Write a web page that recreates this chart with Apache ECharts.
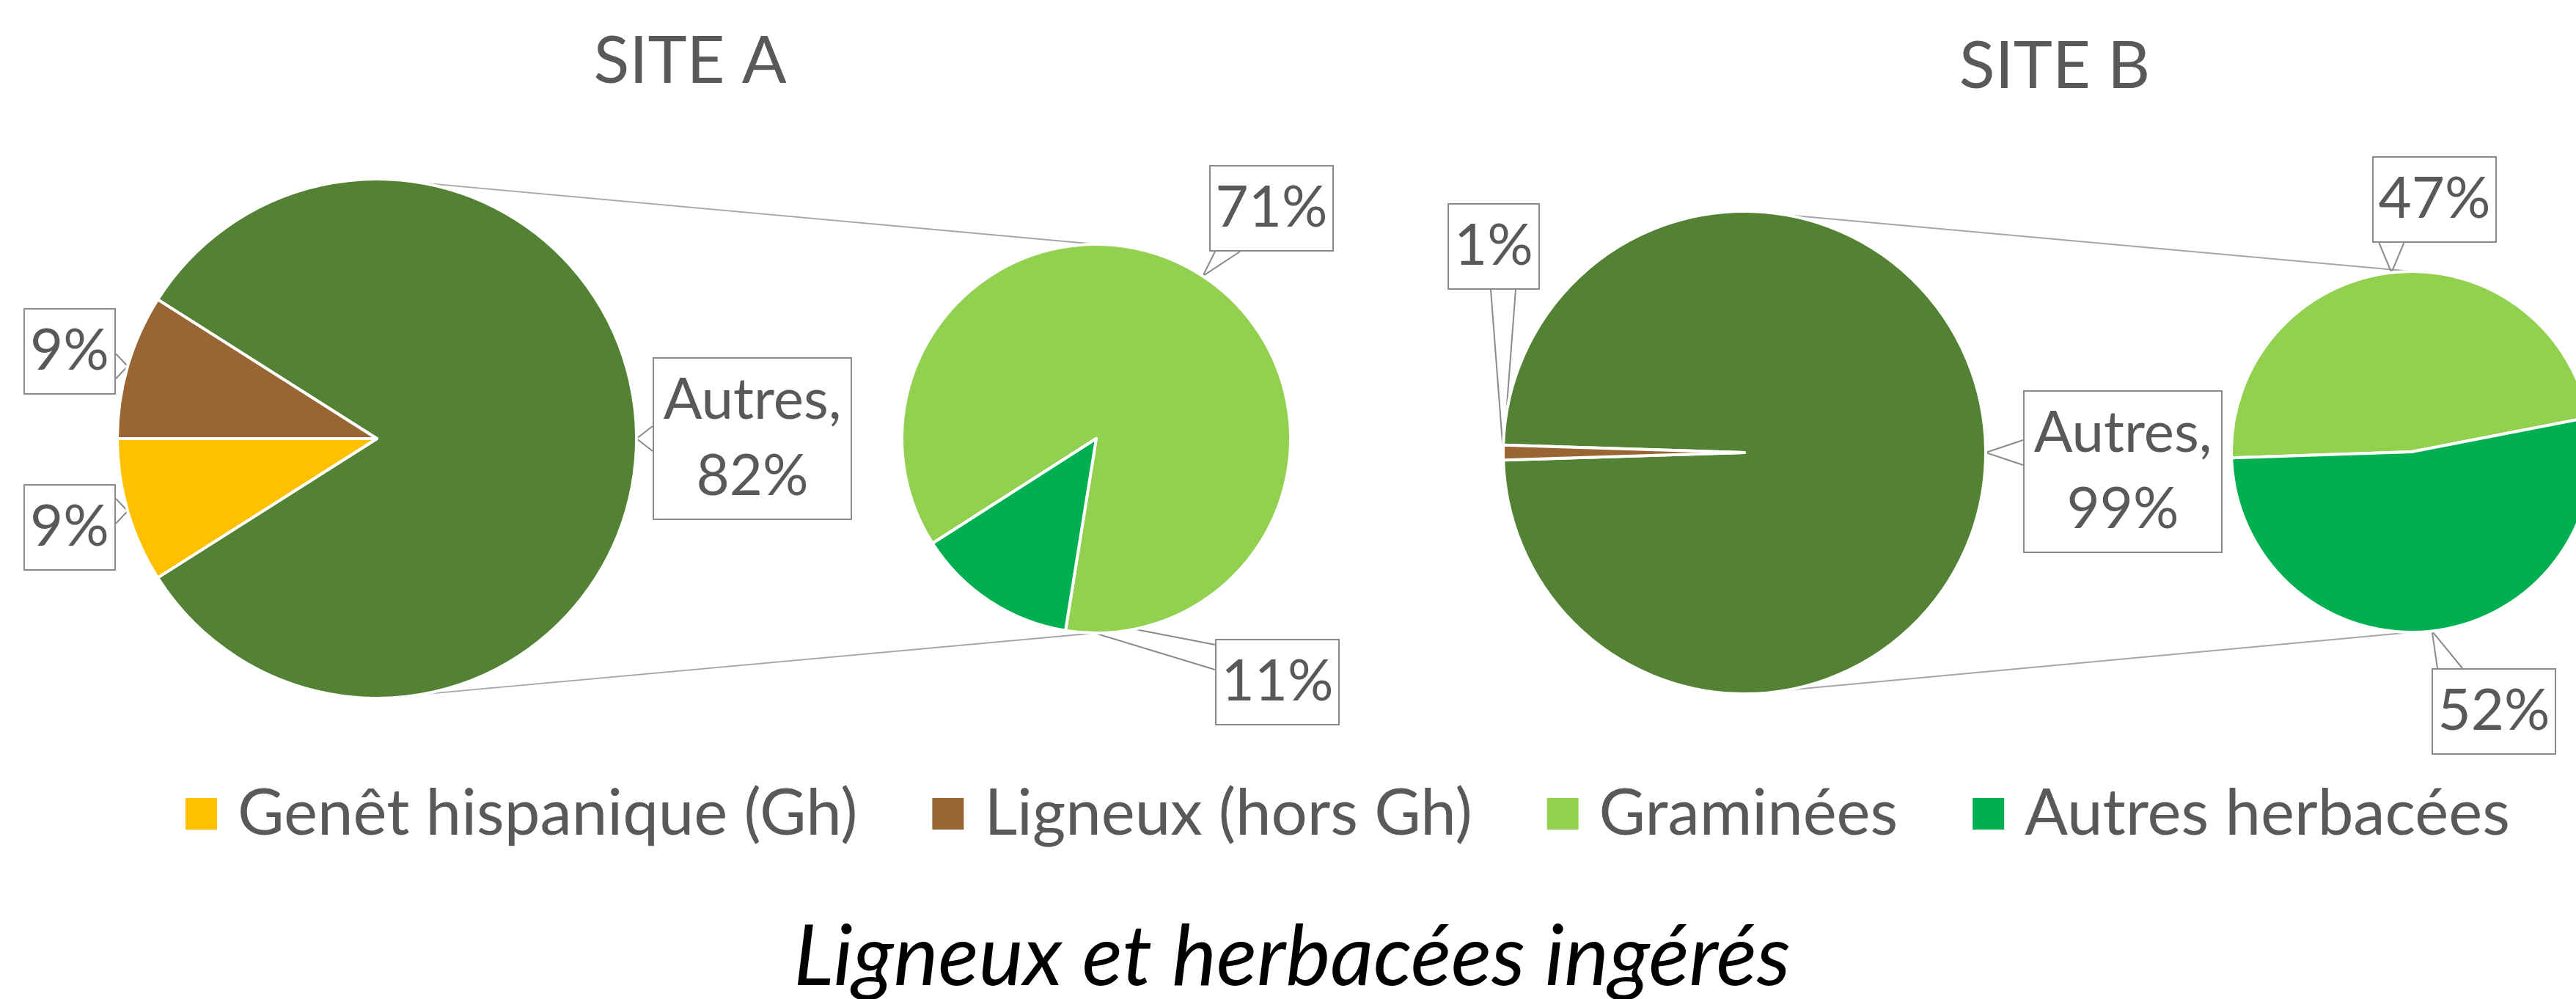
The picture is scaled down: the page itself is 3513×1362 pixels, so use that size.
<!DOCTYPE html>
<html>
<head>
<meta charset="utf-8">
<script src="https://cdn.jsdelivr.net/npm/echarts@6/dist/echarts.min.js"></script>
<style>
  html, body { margin: 0; padding: 0; background: #fff; }
  #chart { width: 3513px; height: 1362px; }
</style>
</head>
<body>
<div id="chart"></div>
<script>
// ---- data ----
const siteTitles = ['SITE A', 'SITE B'];
const chartTitle = 'Ligneux et herbacées ingérés';
const legendNames = ['Genêt hispanique (Gh)', 'Ligneux (hors Gh)', 'Graminées', 'Autres herbacées'];

const siteAMainNames = ['Autres', 'Genêt hispanique (Gh)', 'Ligneux (hors Gh)'];
const siteAMainValues = [82, 9, 9];
const siteASecNames = ['Graminées', 'Autres herbacées'];
const siteASecValues = [71, 11];

const siteBMainNames = ['Autres', 'Ligneux (hors Gh)'];
const siteBMainValues = [99, 1];
const siteBSecNames = ['Graminées', 'Autres herbacées'];
const siteBSecValues = [47, 52];

// ---- styles / layout ----
const colors = {
  'Autres': '#548235',
  'Genêt hispanique (Gh)': '#FFC000',
  'Ligneux (hors Gh)': '#996633',
  'Graminées': '#92D050',
  'Autres herbacées': '#00B050'
};
const TEXT_GREY = '#595959';
const BOX_GREY = '#8a8a8a';
const FONT = 'Lato, "Open Sans", sans-serif';

// pie geometry, start angles and callout box centres (px)
const pies = {
  aMain: { center: [514, 598], r: 354, startAngle: 147.6, labels: [[1026, 598], [95, 719], [95, 479]] },
  aSec:  { center: [1495, 598], r: 265, startAngle: 212.6, labels: [[1734, 284], [1742, 930]] },
  bMain: { center: [2379, 617], r: 329, startAngle: 178.2, labels: [[2895, 643], [2037, 336]] },
  bSec:  { center: [3289, 616], r: 246, startAngle: 181.9, labels: [[3320, 272], [3401, 970]] }
};

function labelText(name, value) {
  return name === 'Autres' ? 'Autres,\n' + value + '%' : value + '%';
}

function boxWidth(text) {
  if (text.indexOf('\n') >= 0) return 268;
  return text.length <= 2 ? 122 : 166;
}

function buildData(names, values) {
  return names.map((name, i) => {
    const text = labelText(name, values[i]);
    const multi = text.indexOf('\n') >= 0;
    return {
      name: name,
      value: values[i],
      itemStyle: { color: colors[name] },
      label: {
        width: boxWidth(text),
        lineHeight: multi ? 104 : 94,
        padding: multi ? [5, 0] : [10, 0]
      }
    };
  });
}

function clamp(v, lo, hi) {
  return Math.min(Math.max(v, lo), hi);
}

// put the label box at its anchor and draw an Excel-like callout wedge to the slice
function calloutLayout(anchors) {
  return function (params) {
    const c = anchors[params.dataIndex];
    const w = params.labelRect.width;
    const h = params.labelRect.height;
    const left = c[0] - w / 2, right = c[0] + w / 2;
    const top = c[1] - h / 2, bottom = c[1] + h / 2;
    const tip = params.labelLinePoints ? params.labelLinePoints[0] : [c[0], bottom + 40];
    const half = 17;
    const outX = tip[0] < left ? left - tip[0] : (tip[0] > right ? tip[0] - right : 0);
    const outY = tip[1] < top ? top - tip[1] : (tip[1] > bottom ? tip[1] - bottom : 0);
    let a, b;
    if (outX >= outY) {
      const ex = tip[0] < left ? left : right;
      const my = clamp(tip[1], top + half + 8, bottom - half - 8);
      a = [ex, my - half];
      b = [ex, my + half];
    } else {
      const ey = tip[1] < top ? top : bottom;
      const mx = clamp(tip[0], left + half + 8, right - half - 8);
      a = [mx - half, ey];
      b = [mx + half, ey];
    }
    return {
      x: c[0],
      y: c[1],
      align: 'center',
      verticalAlign: 'middle',
      labelLinePoints: [a, tip, b]
    };
  };
}

function pieSeries(key, names, values) {
  const p = pies[key];
  return {
    type: 'pie',
    name: key,
    center: p.center,
    radius: p.r,
    startAngle: p.startAngle,
    clockwise: true,
    avoidLabelOverlap: false,
    animation: false,
    silent: true,
    data: buildData(names, values),
    itemStyle: { borderColor: '#ffffff', borderWidth: 4 },
    label: {
      show: true,
      position: 'outside',
      formatter: (prm) => labelText(prm.name, prm.value),
      color: TEXT_GREY,
      fontSize: 78,
      fontFamily: FONT,
      align: 'center',
      backgroundColor: '#ffffff',
      borderColor: BOX_GREY,
      borderWidth: 2
    },
    labelLine: { show: true, lineStyle: { color: BOX_GREY, width: 2 } },
    labelLayout: calloutLayout(p.labels),
    emphasis: { disabled: true }
  };
}

// grey series lines joining the "Autres" pie to its breakdown pie
function seriesLines(main, sec) {
  const ang = 80 * Math.PI / 180;
  const x0 = main.center[0] + main.r * Math.cos(ang);
  const dy = main.r * Math.sin(ang);
  const style = { stroke: '#a6a6a6', lineWidth: 2 };
  return [
    { type: 'line', z: 1, silent: true, style: style,
      shape: { x1: x0, y1: main.center[1] - dy, x2: sec.center[0], y2: sec.center[1] - sec.r } },
    { type: 'line', z: 1, silent: true, style: style,
      shape: { x1: x0, y1: main.center[1] + dy, x2: sec.center[0], y2: sec.center[1] + sec.r } }
  ];
}

const chart = echarts.init(document.getElementById('chart'), null, { renderer: 'canvas' });

chart.setOption({
  backgroundColor: '#ffffff',
  animation: false,
  title: [
    { text: siteTitles[0], left: 941, top: 84, padding: 0, textAlign: 'center', textVerticalAlign: 'middle',
      textStyle: { fontSize: 90, fontWeight: 'normal', color: TEXT_GREY, fontFamily: FONT } },
    { text: siteTitles[1], left: 2802, top: 91, padding: 0, textAlign: 'center', textVerticalAlign: 'middle',
      textStyle: { fontSize: 90, fontWeight: 'normal', color: TEXT_GREY, fontFamily: FONT } },
    { text: chartTitle, left: 1762, top: 1306, padding: 0, textAlign: 'center', textVerticalAlign: 'middle',
      textStyle: { fontSize: 115, fontWeight: 'normal', fontStyle: 'italic', color: '#000000', fontFamily: FONT } }
  ],
  legend: {
    data: legendNames,
    left: 251,
    top: 1066,
    padding: 0,
    icon: 'rect',
    itemWidth: 45,
    itemHeight: 45,
    itemGap: 100,
    selectedMode: false,
    textStyle: { fontSize: 87, color: TEXT_GREY, fontFamily: FONT, padding: [0, 0, 0, 22] }
  },
  graphic: seriesLines(pies.aMain, pies.aSec).concat(seriesLines(pies.bMain, pies.bSec)),
  series: [
    pieSeries('aMain', siteAMainNames, siteAMainValues),
    pieSeries('aSec', siteASecNames, siteASecValues),
    pieSeries('bMain', siteBMainNames, siteBMainValues),
    pieSeries('bSec', siteBSecNames, siteBSecValues)
  ]
});
</script>
</body>
</html>
